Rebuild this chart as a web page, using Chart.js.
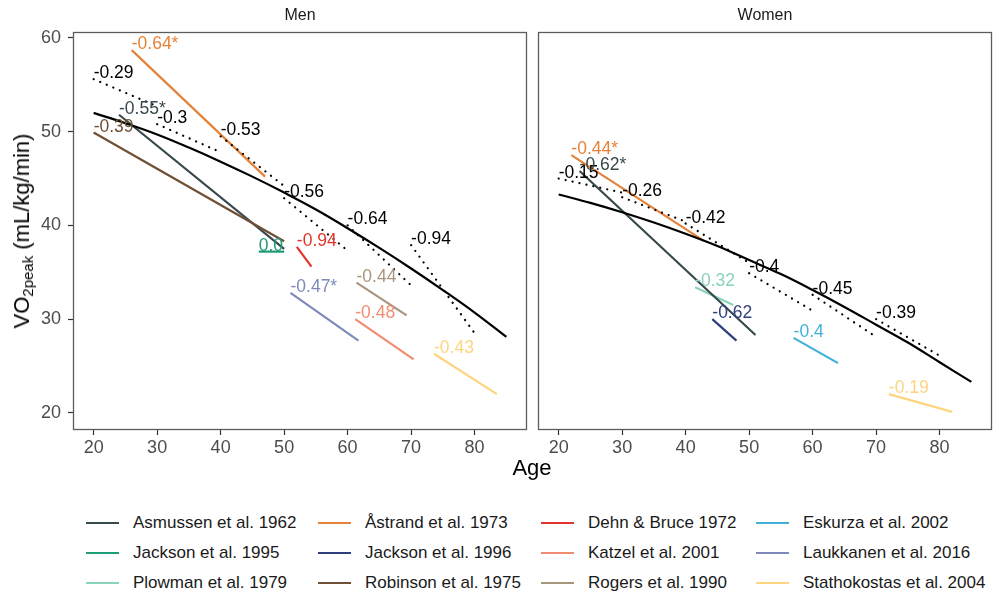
<!DOCTYPE html>
<html>
<head>
<meta charset="utf-8">
<script src="https://cdn.jsdelivr.net/npm/chart.js@4.4.1/dist/chart.umd.min.js"></script>
<style>
  body { margin: 0; background: #fff; font-family: 'Liberation Sans', Arial, sans-serif; }
  #wrap { position: relative; width: 995px; height: 595px; overflow: hidden; }
  canvas { position: absolute; top: 0; }
  .strip { position: absolute; top: 6px; font-size: 16px; color: #1a1a1a; text-align: center; }
  #age { position: absolute; left: 0; width: 1064px; top: 455px; text-align: center; font-size: 22px; color: #000; }
  #ytitle { position: absolute; left: 22px; top: 231px; transform: translate(-50%, -50%) rotate(-90deg);
            white-space: nowrap; font-size: 22px; color: #000; }
  #ytitle sub { font-size: 15px; vertical-align: -4px; line-height: 0; }
  .key { position: absolute; display: flex; align-items: center; font-size: 17px; color: #1a1a1a; white-space: nowrap; }
  .key i { display: inline-block; width: 33px; height: 2.5px; margin-right: 14px; }
</style>
</head>
<body>
<div id="wrap">
  <canvas id="men" width="530" height="460" style="left:0"></canvas>
  <canvas id="women" width="465" height="460" style="left:530px"></canvas>
  <div class="strip" style="left:73px;width:454px">Men</div>
  <div class="strip" style="left:538px;width:454px">Women</div>
  <div id="age">Age</div>
  <div id="ytitle">VO<sub>2peak</sub> (mL/kg/min)</div>
  <div id="legend"></div>
</div>
<script>
// studies (legend order) and their colours
const studies = ['Asmussen et al. 1962', 'Åstrand et al. 1973', 'Dehn & Bruce 1972', 'Eskurza et al. 2002',
  'Jackson et al. 1995', 'Jackson et al. 1996', 'Katzel et al. 2001', 'Laukkanen et al. 2016',
  'Plowman et al. 1979', 'Robinson et al. 1975', 'Rogers et al. 1990', 'Stathokostas et al. 2004'];
const studyColors = ['#37494c', '#e5823a', '#e3342b', '#3fb1da', '#1f9b77', '#2f3f7d', '#f18c72', '#7f8aba',
  '#8ad3bc', '#6f5035', '#a8967c', '#fdd57f'];

// men: study segments
const menStudy = ['Robinson et al. 1975', 'Asmussen et al. 1962', 'Åstrand et al. 1973', 'Jackson et al. 1995',
  'Dehn & Bruce 1972', 'Laukkanen et al. 2016', 'Rogers et al. 1990', 'Katzel et al. 2001', 'Stathokostas et al. 2004'];
const menAgeFrom = [20, 24, 26, 46, 52, 51, 61.4, 61.2, 73.6];
const menAgeTo = [50, 50, 47, 50, 54.3, 61.7, 69.3, 70.4, 83.5];
const menVoFrom = [49.9, 51.8, 58.7, 37.2, 37.7, 32.8, 33.9, 30.0, 26.3];
const menVoTo = [38.3, 37.5, 45.2, 37.2, 35.6, 27.7, 30.4, 25.7, 22.0];
const menSlope = ['-0.39', '-0.55*', '-0.64*', '0.0', '-0.94', '-0.47*', '-0.44', '-0.48', '-0.43'];

// women: study segments
const womenStudy = ['Åstrand et al. 1973', 'Asmussen et al. 1962', 'Plowman et al. 1979', 'Jackson et al. 1996',
  'Eskurza et al. 2002', 'Stathokostas et al. 2004'];
const womenAgeFrom = [22, 23.3, 41.5, 44.2, 57, 72];
const womenAgeTo = [43, 51, 47.5, 48, 64, 82];
const womenVoFrom = [47.5, 45.8, 33.4, 30.0, 28.0, 22.0];
const womenVoTo = [38.3, 28.3, 31.5, 27.7, 25.3, 20.1];
const womenSlope = ['-0.44*', '-0.62*', '-0.32', '-0.62', '-0.4', '-0.19'];

// decade slopes (dotted)
const decadeFrom = [20, 30, 40, 50, 60, 70];
const decadeTo = [30, 40, 50, 60, 70, 80];
const menDecVoFrom = [55.6, 50.8, 49.5, 42.9, 40.0, 37.9];
const menDecVoTo = [52.7, 47.8, 44.2, 37.3, 33.6, 28.5];
const menDecSlope = ['-0.29', '-0.3', '-0.53', '-0.56', '-0.64', '-0.94'];
const womenDecVoFrom = [45.0, 43.0, 40.2, 34.9, 32.6, 30.0];
const womenDecVoTo = [43.5, 40.4, 36.0, 30.9, 28.1, 26.1];
const womenDecSlope = ['-0.15', '-0.26', '-0.42', '-0.4', '-0.45', '-0.39'];

// overall curve
const curveAge = [20, 25, 30, 35, 40, 45, 50, 55, 60, 65, 70, 75, 80, 85];
const menCurve = [52.0, 50.9, 49.7, 48.3, 46.8, 45.2, 43.5, 41.7, 39.7, 37.6, 35.4, 33.1, 30.7, 28.1];
const womenCurve = [43.3, 42.4, 41.4, 40.3, 39.1, 37.8, 36.3, 34.8, 33.1, 31.3, 29.4, 27.5, 25.4, 23.3];

const xTicks = [20, 30, 40, 50, 60, 70, 80];
const yTicks = [20, 30, 40, 50, 60];

const FONT = "'Liberation Sans', Arial, sans-serif";

function buildDatasets(studyNames, ageFrom, ageTo, voFrom, voTo, slopes,
                       decFromVo, decToVo, decSlopes, curve) {
  const sets = [];
  sets.push({
    data: curveAge.map((a, i) => ({ x: a, y: curve[i] })),
    borderColor: '#000', borderWidth: 2.2, tension: 0.4
  });
  decadeFrom.forEach((a, i) => {
    sets.push({
      data: [{ x: a, y: decFromVo[i] }, { x: decadeTo[i], y: decToVo[i] }],
      borderColor: '#000', borderWidth: 2.2, borderDash: [0.1, 7], borderCapStyle: 'round',
      note: decSlopes[i], noteColor: '#000'
    });
  });
  studyNames.forEach((s, i) => {
    const c = studyColors[studies.indexOf(s)];
    sets.push({
      data: [{ x: ageFrom[i], y: voFrom[i] }, { x: ageTo[i], y: voTo[i] }],
      borderColor: c, borderWidth: 2.2, note: slopes[i], noteColor: c
    });
  });
  return sets;
}

// slope labels + panel border
const notesPlugin = {
  id: 'notes',
  afterDatasetsDraw(chart) {
    const { ctx, scales: { x, y }, chartArea: a } = chart;
    ctx.save();
    ctx.font = '17.5px ' + FONT;
    ctx.textAlign = 'left';
    ctx.textBaseline = 'alphabetic';
    chart.data.datasets.forEach(ds => {
      if (!ds.note) return;
      ctx.fillStyle = ds.noteColor;
      ctx.fillText(ds.note, x.getPixelForValue(ds.data[0].x), y.getPixelForValue(ds.data[0].y) - 1);
    });
    ctx.strokeStyle = '#5c5c5c';
    ctx.lineWidth = 1.3;
    ctx.strokeRect(a.left + 0.5, a.top + 0.5, a.right - a.left - 1, a.bottom - a.top - 1);
    ctx.restore();
  }
};

function panel(id, datasets, showY, padLeft) {
  const tickFont = { family: FONT, size: 18 };
  return new Chart(document.getElementById(id), {
    type: 'scatter',
    data: { datasets },
    plugins: [notesPlugin],
    options: {
      responsive: false,
      animation: false,
      showLine: true,
      layout: { padding: { top: 32, right: 3, left: padLeft, bottom: 0 } },
      elements: { point: { radius: 0, hoverRadius: 0 }, line: { fill: false } },
      plugins: { legend: { display: false }, tooltip: { enabled: false } },
      scales: {
        x: {
          type: 'linear', min: 16.75, max: 88.25,
          afterBuildTicks: s => { s.ticks = xTicks.map(v => ({ value: v })); },
          afterFit: s => { s.height = 30; },
          ticks: { font: tickFont, color: '#4d4d4d', padding: 2, maxRotation: 0 },
          grid: { drawOnChartArea: false, drawTicks: true, tickLength: 5, tickColor: '#333', tickWidth: 1.2 },
          border: { display: false }
        },
        y: {
          type: 'linear', min: 18.17, max: 60.63, display: showY,
          afterBuildTicks: s => { s.ticks = yTicks.map(v => ({ value: v })); },
          afterFit: s => { s.width = showY ? 73 : 0; },
          ticks: { font: tickFont, color: '#4d4d4d', padding: 7 },
          grid: { drawOnChartArea: false, drawTicks: true, tickLength: 5, tickColor: '#333', tickWidth: 1.2 },
          border: { display: false }
        }
      }
    }
  });
}

panel('men', buildDatasets(menStudy, menAgeFrom, menAgeTo, menVoFrom, menVoTo, menSlope,
  menDecVoFrom, menDecVoTo, menDecSlope, menCurve), true, 0);
panel('women', buildDatasets(womenStudy, womenAgeFrom, womenAgeTo, womenVoFrom, womenVoTo, womenSlope,
  womenDecVoFrom, womenDecVoTo, womenDecSlope, womenCurve), false, 8);

// legend: 4 columns, filled row by row
const legendCols = [86, 318, 541, 756];
const legendRows = [523, 553, 583];
const legend = document.getElementById('legend');
studies.forEach((s, i) => {
  const el = document.createElement('div');
  el.className = 'key';
  el.style.left = legendCols[i % 4] + 'px';
  el.style.top = (legendRows[Math.floor(i / 4)] - 11) + 'px';
  el.style.height = '22px';
  el.innerHTML = '<i style="background:' + studyColors[i] + '"></i>' + s.replace('&', '&amp;');
  legend.appendChild(el);
});
</script>
</body>
</html>
